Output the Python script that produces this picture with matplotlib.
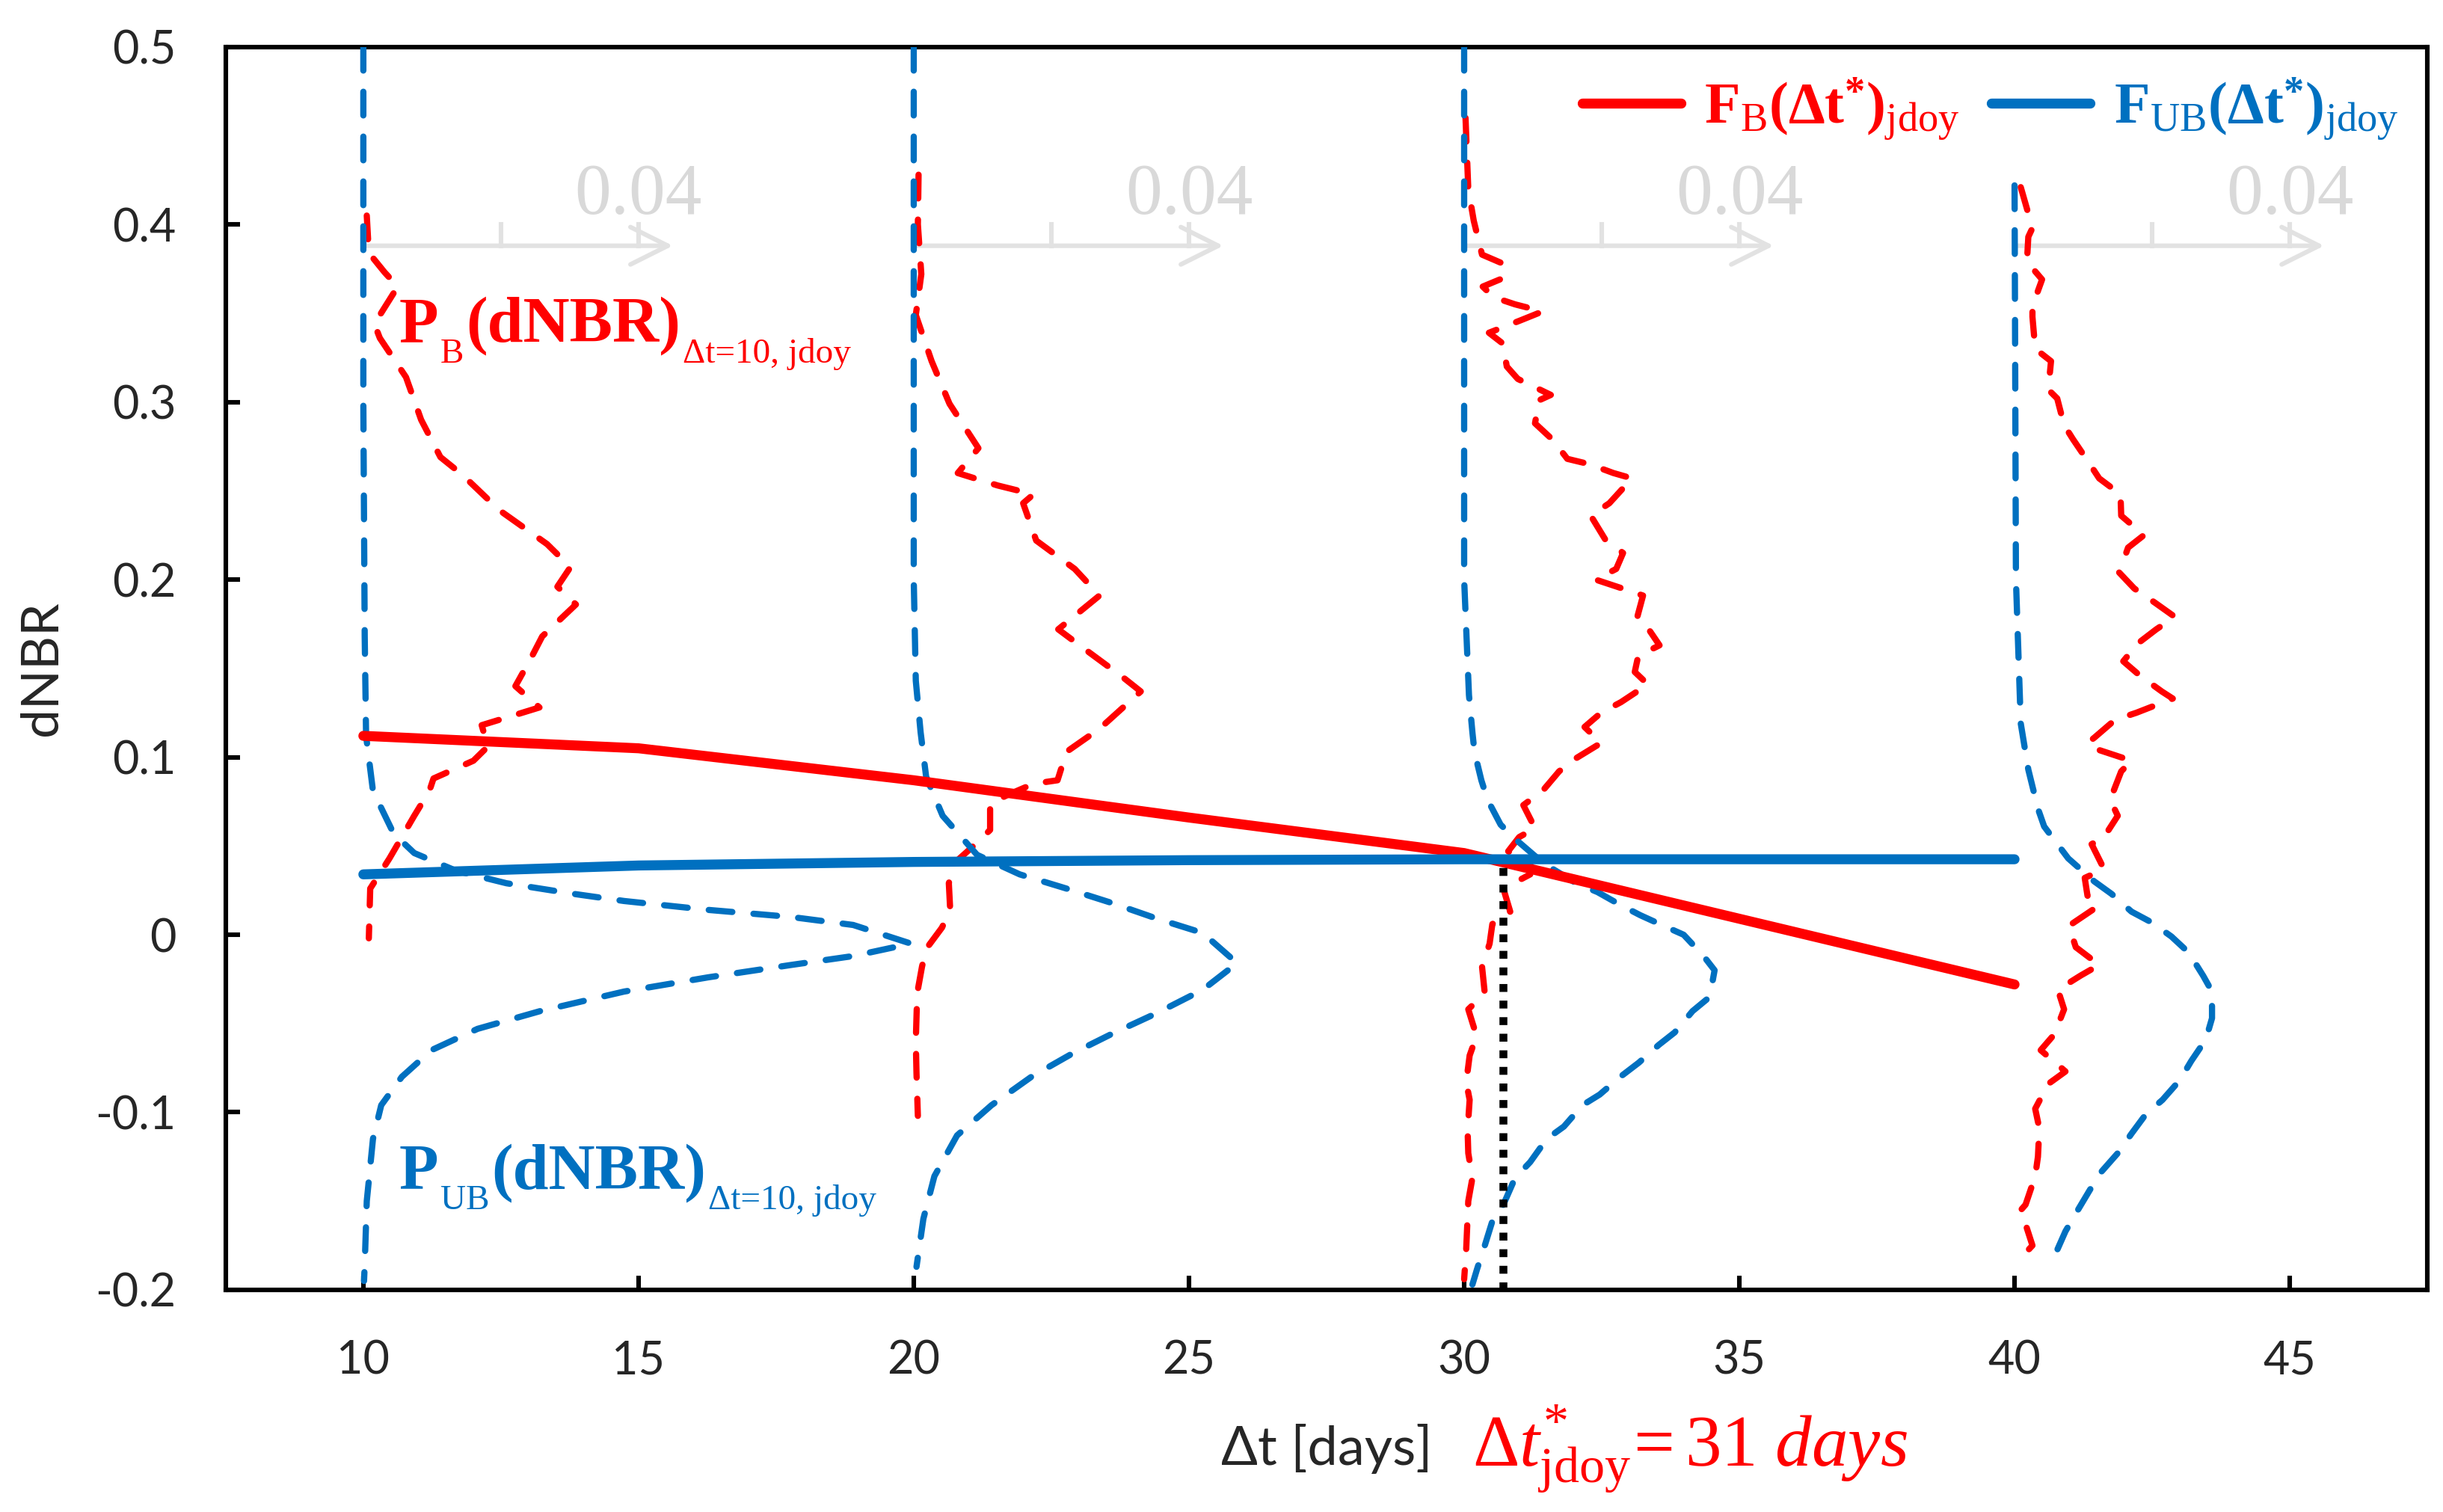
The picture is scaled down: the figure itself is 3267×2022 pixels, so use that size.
import matplotlib.pyplot as plt

# --- data -------------------------------------------------------------
# time windows (days) at which the dNBR distributions are drawn
dt_windows = [10, 20, 30, 40]

# thresholds F_B / F_UB against time window
dt_days = [10, 15, 20, 25, 30, 35, 40]
f_b = [0.112, 0.105, 0.087, 0.066, 0.046, 0.009, -0.028]
f_ub = [0.034, 0.039, 0.041, 0.042, 0.0425, 0.0425, 0.0425]

# crossing point -> optimal window
dt_cross = 30.7
dnbr_cross = 0.041

# burned pixels P_B(dNBR), one curve per window (dNBR, density)
pb_dnbr_10 = [0.405, 0.384, 0.373, 0.365, 0.344, 0.336, 0.314, 0.290, 0.269, 0.259,
              0.239, 0.220, 0.207, 0.196, 0.186, 0.168, 0.156, 0.140, 0.128, 0.118,
              0.106, 0.098, 0.088, 0.081, 0.067, 0.043, 0.026, -0.002]
pb_dens_10 = [0.0005, 0.0008, 0.0031, 0.0050, 0.0016, 0.0024, 0.0062, 0.0084, 0.0112, 0.0144,
              0.0198, 0.0267, 0.0301, 0.0282, 0.0309, 0.0260, 0.0244, 0.0221, 0.0256, 0.0172,
              0.0181, 0.0160, 0.0102, 0.0096, 0.0074, 0.0038, 0.0010, 0.0008]

pb_dnbr_20 = [0.428, 0.400, 0.372, 0.349, 0.323, 0.299, 0.274, 0.260, 0.253, 0.248,
              0.243, 0.222, 0.206, 0.191, 0.172, 0.161, 0.145, 0.137, 0.116, 0.103,
              0.087, 0.085, 0.079, 0.074, 0.059, 0.049, 0.040, 0.029, 0.014, 0.004,
              -0.008, -0.018, -0.033, -0.060, -0.078, -0.102]
pb_dens_20 = [0.0007, 0.0006, 0.0011, 0.0003, 0.0026, 0.0052, 0.0094, 0.0064, 0.0122, 0.0174,
              0.0159, 0.0178, 0.0234, 0.0270, 0.0210, 0.0248, 0.0304, 0.0330, 0.0270, 0.0222,
              0.0209, 0.0174, 0.0138, 0.0111, 0.0111, 0.0084, 0.0058, 0.0051, 0.0053, 0.0041,
              0.0018, 0.0012, 0.0005, 0.0003, 0.0004, 0.0006]

pb_dnbr_30 = [0.460, 0.440, 0.420, 0.402, 0.383, 0.378, 0.370, 0.365, 0.359, 0.355,
              0.351, 0.346, 0.339, 0.333, 0.320, 0.313, 0.304, 0.301, 0.288, 0.279,
              0.268, 0.265, 0.260, 0.257, 0.243, 0.236, 0.222, 0.215, 0.206, 0.200,
              0.195, 0.191, 0.178, 0.171, 0.163, 0.157, 0.148, 0.141, 0.131, 0.125,
              0.117, 0.108, 0.099, 0.092, 0.081, 0.073, 0.060, 0.055, 0.047, 0.040,
              0.034, 0.026, 0.013, 0.006, -0.005, -0.018, -0.033, -0.042, -0.057, -0.068,
              -0.083, -0.093, -0.110, -0.123, -0.137, -0.150, -0.177, -0.194]
pb_dens_30 = [0.0002, 0.0004, 0.0006, 0.0014, 0.0026, 0.0056, 0.0058, 0.0027, 0.0043, 0.0074,
              0.0114, 0.0082, 0.0036, 0.0056, 0.0062, 0.0078, 0.0126, 0.0109, 0.0103, 0.0128,
              0.0150, 0.0182, 0.0217, 0.0244, 0.0211, 0.0184, 0.0206, 0.0231, 0.0221, 0.0191,
              0.0230, 0.0260, 0.0251, 0.0270, 0.0284, 0.0253, 0.0248, 0.0267, 0.0228, 0.0199,
              0.0175, 0.0199, 0.0161, 0.0138, 0.0114, 0.0086, 0.0103, 0.0080, 0.0064, 0.0096,
              0.0096, 0.0057, 0.0067, 0.0041, 0.0037, 0.0026, 0.0030, 0.0006, 0.0018, 0.0008,
              0.0003, 0.0008, 0.0005, 0.0006, 0.0012, 0.0006, 0.0003, 0.0000]

pb_dnbr_40 = [0.421, 0.398, 0.393, 0.379, 0.369, 0.354, 0.348, 0.330, 0.323, 0.307,
              0.302, 0.287, 0.279, 0.267, 0.257, 0.248, 0.236, 0.225, 0.218, 0.204,
              0.195, 0.187, 0.179, 0.172, 0.164, 0.154, 0.146, 0.137, 0.133, 0.125,
              0.121, 0.111, 0.108, 0.104, 0.098, 0.092, 0.076, 0.067, 0.055, 0.051,
              0.037, 0.032, 0.022, 0.016, 0.005, -0.007, -0.017, -0.023, -0.031, -0.042,
              -0.056, -0.065, -0.077, -0.084, -0.098, -0.109, -0.125, -0.136, -0.152, -0.156,
              -0.163, -0.175, -0.180, -0.184]
pb_dens_40 = [0.0009, 0.0026, 0.0020, 0.0018, 0.0040, 0.0026, 0.0026, 0.0030, 0.0053, 0.0049,
              0.0062, 0.0072, 0.0085, 0.0106, 0.0123, 0.0154, 0.0155, 0.0188, 0.0165, 0.0152,
              0.0174, 0.0204, 0.0233, 0.0206, 0.0179, 0.0158, 0.0182, 0.0214, 0.0230, 0.0177,
              0.0146, 0.0116, 0.0106, 0.0123, 0.0170, 0.0155, 0.0139, 0.0150, 0.0130, 0.0112,
              0.0130, 0.0102, 0.0106, 0.0121, 0.0079, 0.0089, 0.0123, 0.0096, 0.0063, 0.0072,
              0.0058, 0.0038, 0.0074, 0.0049, 0.0030, 0.0036, 0.0034, 0.0030, 0.0016, 0.0007,
              0.0016, 0.0026, 0.0014, 0.0027]

# unburned pixels P_UB(dNBR)
pub_dnbr_10 = [0.500, 0.300, 0.168, 0.112, 0.081, 0.057, 0.046, 0.036, 0.029, 0.023,
               0.019, 0.014, 0.010, 0.0055, -0.005, -0.012, -0.017, -0.024, -0.032, -0.043,
               -0.053, -0.065, -0.080, -0.096, -0.115, -0.150, -0.186, -0.195]
pub_dens_10 = [0.0, 0.0, 0.0002, 0.0004, 0.0014, 0.0044, 0.0074, 0.0135, 0.0208, 0.0306,
               0.0379, 0.0501, 0.0622, 0.0712, 0.0796, 0.0712, 0.0622, 0.0501, 0.0379, 0.0257,
               0.0166, 0.0099, 0.0056, 0.0026, 0.0014, 0.0005, 0.0002, 0.0001]

pub_dnbr_20 = [0.500, 0.200, 0.143, 0.114, 0.089, 0.067, 0.045, 0.034, 0.026, 0.018,
               0.009, 0.001, -0.016, -0.031, -0.044, -0.056, -0.067, -0.080, -0.096, -0.113,
               -0.136, -0.160, -0.187]
pub_dens_20 = [0.0, 0.0, 0.0003, 0.0010, 0.0018, 0.0042, 0.0092, 0.0154, 0.0222, 0.0287,
               0.0354, 0.0420, 0.0470, 0.0420, 0.0354, 0.0287, 0.0230, 0.0171, 0.0113, 0.0063,
               0.0030, 0.0014, 0.0004]

pub_dnbr_30 = [0.500, 0.200, 0.135, 0.114, 0.103, 0.087, 0.076, 0.062, 0.054, 0.043,
               0.037, 0.029, 0.024, 0.017, 0.011, 0.005, 0.000, -0.012, -0.020, -0.035,
               -0.043, -0.055, -0.062, -0.072, -0.080, -0.090, -0.096, -0.108, -0.115, -0.128,
               -0.137, -0.152, -0.160, -0.175, -0.188, -0.197]
pub_dens_30 = [0.0, 0.0, 0.0007, 0.0012, 0.0015, 0.0025, 0.0034, 0.0053, 0.0074, 0.0107,
               0.0129, 0.0163, 0.0194, 0.0226, 0.0256, 0.0290, 0.0319, 0.0348, 0.0364, 0.0357,
               0.0332, 0.0306, 0.0283, 0.0254, 0.0227, 0.0197, 0.0172, 0.0145, 0.0120, 0.0096,
               0.0074, 0.0057, 0.0042, 0.0030, 0.0019, 0.0012]

pub_dnbr_40 = [0.422, 0.200, 0.119, 0.093, 0.071, 0.061, 0.043, 0.030, 0.023, 0.013,
               0.007, -0.001, -0.010, -0.023, -0.032, -0.047, -0.059, -0.071, -0.082, -0.093,
               -0.101, -0.112, -0.123, -0.134, -0.144, -0.157, -0.167, -0.181]
pub_dens_40 = [0.0, 0.0002, 0.0009, 0.0020, 0.0034, 0.0043, 0.0078, 0.0116, 0.0141, 0.0170,
               0.0199, 0.0228, 0.0253, 0.0274, 0.0287, 0.0287, 0.0278, 0.0257, 0.0240, 0.0215,
               0.0191, 0.0170, 0.0150, 0.0125, 0.0109, 0.0089, 0.0074, 0.0058]

x_ticks = [10, 15, 20, 25, 30, 35, 40, 45]
y_ticks = [0.5, 0.4, 0.3, 0.2, 0.1, 0.0, -0.1, -0.2]
y_tick_labels = ['0.5', '0.4', '0.3', '0.2', '0.1', '0', '-0.1', '-0.2']
scale_ticks = [0.02, 0.04]

DAYS_PER_DENSITY = 125  # density 0.04 is drawn 5 days wide

RED = '#ff0000'
BLUE = '#0070c0'
GREY_SCALE = '#e2e2e2'
TICK_COLOR = '#262626'
SERIF = 'Liberation Serif'

plt.rcParams['font.family'] = ['Lato', 'DejaVu Sans']
plt.rcParams['mathtext.fontset'] = 'custom'
plt.rcParams['mathtext.rm'] = SERIF
plt.rcParams['mathtext.it'] = SERIF + ':italic'
plt.rcParams['mathtext.bf'] = SERIF + ':bold'

fig = plt.figure(figsize=(16.335, 10.11), dpi=200)
ax = fig.add_axes([0.0924, 0.1469, 0.9012, 0.8221])

pb_curves = [(pb_dnbr_10, pb_dens_10), (pb_dnbr_20, pb_dens_20),
             (pb_dnbr_30, pb_dens_30), (pb_dnbr_40, pb_dens_40)]
pub_curves = [(pub_dnbr_10, pub_dens_10), (pub_dnbr_20, pub_dens_20),
              (pub_dnbr_30, pub_dens_30), (pub_dnbr_40, pub_dens_40)]

dash = dict(lw=3.0, dashes=(3.8, 3.4), dash_capstyle='round')
for w, (yv, dv) in zip(dt_windows, pb_curves):
    ax.plot([w + d * DAYS_PER_DENSITY for d in dv], yv, color=RED, zorder=3, **dash)
for w, (yv, dv) in zip(dt_windows, pub_curves):
    ax.plot([w + d * DAYS_PER_DENSITY for d in dv], yv, color=BLUE, zorder=3, **dash)

# light grey density scale bars
for w in dt_windows:
    y0 = 0.388
    ax.annotate('', xy=(w + 0.045 * DAYS_PER_DENSITY, y0), xytext=(w, y0),
                arrowprops=dict(arrowstyle='->', color=GREY_SCALE, lw=2.2,
                                mutation_scale=45, shrinkA=0, shrinkB=0), zorder=1)
    for s in scale_ticks:
        ax.plot([w + s * DAYS_PER_DENSITY] * 2, [y0, y0 + 0.012], color=GREY_SCALE,
                lw=2.2, zorder=1)
    ax.text(w + scale_ticks[-1] * DAYS_PER_DENSITY, y0 + 0.018, '0.04', ha='center',
            va='baseline', fontsize=35, color='#d9d9d9', family=SERIF, zorder=1)

l_b, = ax.plot(dt_days, f_b, color=RED, lw=4.8, solid_capstyle='round', zorder=4)
l_ub, = ax.plot(dt_days, f_ub, color=BLUE, lw=4.8, solid_capstyle='round', zorder=4)

ax.plot([dt_cross, dt_cross], [y_ticks[-1], dnbr_cross], color='black', lw=3.8,
        linestyle=(0, (1, 1.1)), zorder=5)


def label_with_subs(x, y, parts, color):
    """Chain text pieces; parts = [(text, is_sub), ...]."""
    prev = None
    for txt, is_sub in parts:
        kw = dict(color=color, family=SERIF, va='baseline', ha='left', zorder=6)
        if is_sub:
            kw.update(fontsize=17)
            dy = -10
        else:
            kw.update(fontsize=31, fontweight='bold')
            dy = 0
        if prev is None:
            prev = ax.annotate(txt, xy=(x, y), xycoords='data', xytext=(0, dy),
                               textcoords='offset points', **kw)
        else:
            prev = ax.annotate(txt, xy=(1, y), xycoords=(prev, 'data'), xytext=(1, dy),
                               textcoords='offset points', **kw)


label_with_subs(10.65, 0.334, [('P', False), ('B', True), ('(dNBR)', False),
                               ('Δt=10, jdoy', True)], RED)
label_with_subs(10.65, -0.143, [('P', False), ('UB', True), ('(dNBR)', False),
                                ('Δt=10, jdoy', True)], BLUE)

ax.legend([l_b, l_ub],
          [r'$\mathbf{F}_{\mathrm{B}}\mathbf{(\Delta t^{*})}_{\mathrm{jdoy}}$',
           r'$\mathbf{F}_{\mathrm{UB}}\mathbf{(\Delta t^{*})}_{\mathrm{jdoy}}$'],
          loc='upper right', ncol=2, frameon=False, fontsize=28, handlelength=1.7,
          handletextpad=0.4, columnspacing=0.55, labelcolor='linecolor',
          borderaxespad=0.2, borderpad=0.3)

ax.set_xlim(7.5, 47.5)
ax.set_ylim(-0.2, 0.5)
ax.set_xticks(x_ticks)
ax.set_xticklabels([str(v) for v in x_ticks])
ax.set_yticks(y_ticks)
ax.set_yticklabels(y_tick_labels)
ax.tick_params(direction='in', length=7, width=2.2, labelsize=22, labelcolor=TICK_COLOR,
               pad=24)
for sp in ax.spines.values():
    sp.set_linewidth(2.2)

ax.set_ylabel('dNBR', fontsize=25, color=TICK_COLOR, labelpad=14)
ax.set_xlabel('Δt [days]', fontsize=26, color=TICK_COLOR)
ax.xaxis.set_label_coords(0.5, -0.108)
ax.xaxis.label.set_va('top')

fig.text(0.6027, 0.0307, r'$\Delta t^{*}_{\mathrm{jdoy}}\!= 31\ days$', color=RED,
         fontsize=35, va='baseline', ha='left')

fig.savefig('out.png', dpi=200)
